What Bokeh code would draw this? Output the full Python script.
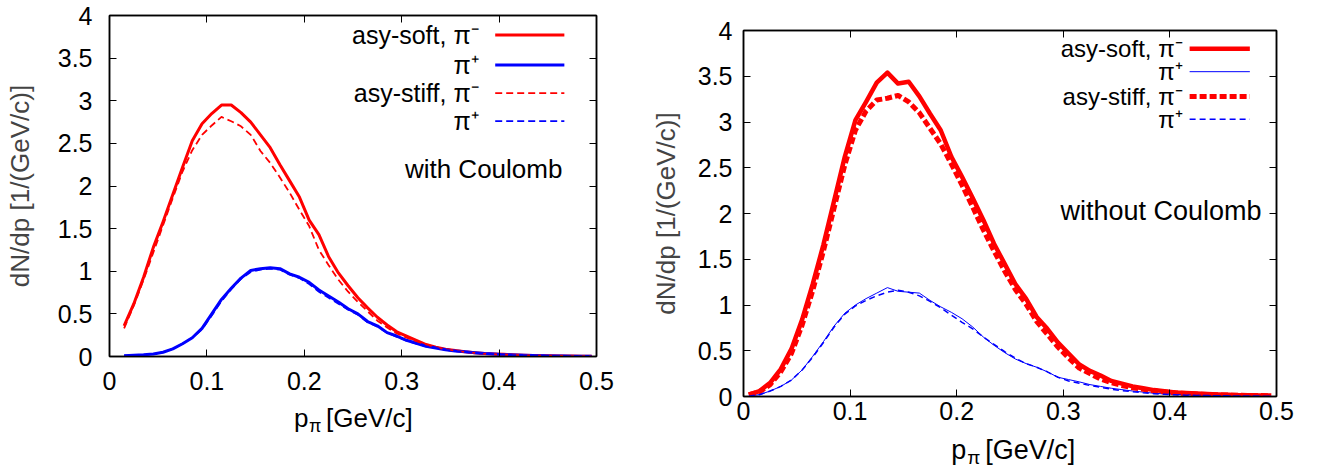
from bokeh.plotting import figure
from bokeh.layouts import row, column
from bokeh.models import Range1d, LinearAxis, FixedTicker, Label, CustomJSTickFormatter
from bokeh.core.properties import value
from bokeh.embed import file_html
from bokeh.resources import INLINE

# ---------------- data ----------------
x_ticks = [0, 0.1, 0.2, 0.3, 0.4, 0.5]
x_tick_labels = ["0", "0.1", "0.2", "0.3", "0.4", "0.5"]
y_ticks = [0, 0.5, 1, 1.5, 2, 2.5, 3, 3.5, 4]
y_tick_labels = ["0", "0.5", "1", "1.5", "2", "2.5", "3", "3.5", "4"]

series_labels = ["asy-soft, π⁻", "π⁺", "asy-stiff, π⁻", "π⁺"]
x_title = ["p", "π", "[GeV/c]"]
y_title = "dN/dp [1/(GeV/c)]"
panel_notes = ["with Coulomb", "without Coulomb"]

# left panel: with Coulomb
p_with = [0.015, 0.025, 0.035, 0.045, 0.055, 0.065, 0.075, 0.085, 0.095, 0.105,
          0.115, 0.125, 0.135, 0.145, 0.155, 0.165, 0.175, 0.185, 0.195, 0.205,
          0.215, 0.225, 0.235, 0.245, 0.255, 0.265, 0.275, 0.285, 0.295, 0.305,
          0.315, 0.325, 0.335, 0.345, 0.355, 0.365, 0.375, 0.385, 0.395, 0.405,
          0.415, 0.425, 0.435, 0.445, 0.455, 0.465, 0.475, 0.485, 0.495]
soft_pim_with = [0.36, 0.62, 0.93, 1.28, 1.58, 1.90, 2.22, 2.53, 2.73, 2.85,
                 2.95, 2.95, 2.86, 2.75, 2.60, 2.45, 2.25, 2.06, 1.87, 1.60,
                 1.43, 1.17, 0.98, 0.83, 0.69, 0.57, 0.46, 0.37, 0.29, 0.24,
                 0.19, 0.14, 0.11, 0.085, 0.07, 0.055, 0.045, 0.035, 0.03, 0.025,
                 0.02, 0.015, 0.012, 0.01, 0.008, 0.006, 0.005, 0.004, 0.003]
soft_pip_with = [0.01, 0.015, 0.02, 0.03, 0.05, 0.09, 0.15, 0.22, 0.33, 0.50,
                 0.67, 0.80, 0.92, 1.01, 1.03, 1.04, 1.03, 0.97, 0.93, 0.87,
                 0.78, 0.71, 0.64, 0.56, 0.50, 0.41, 0.36, 0.28, 0.24, 0.19,
                 0.155, 0.12, 0.10, 0.08, 0.065, 0.055, 0.045, 0.035, 0.028, 0.022,
                 0.018, 0.014, 0.011, 0.009, 0.007, 0.005, 0.004, 0.003, 0.002]
stiff_pim_with = [0.33, 0.60, 0.90, 1.22, 1.54, 1.86, 2.17, 2.42, 2.60, 2.71,
                  2.81, 2.76, 2.70, 2.60, 2.41, 2.27, 2.10, 1.92, 1.72, 1.53,
                  1.25, 1.07, 0.90, 0.76, 0.64, 0.53, 0.42, 0.34, 0.27, 0.22,
                  0.18, 0.14, 0.11, 0.085, 0.068, 0.052, 0.042, 0.032, 0.027, 0.022,
                  0.018, 0.014, 0.011, 0.009, 0.007, 0.006, 0.005, 0.004, 0.003]
stiff_pip_with = [0.01, 0.014, 0.02, 0.03, 0.05, 0.09, 0.15, 0.22, 0.32, 0.48,
                  0.65, 0.79, 0.91, 0.99, 1.02, 1.03, 1.02, 0.96, 0.92, 0.85,
                  0.76, 0.69, 0.62, 0.55, 0.49, 0.40, 0.35, 0.28, 0.23, 0.185,
                  0.15, 0.12, 0.10, 0.078, 0.063, 0.052, 0.043, 0.034, 0.027, 0.021,
                  0.017, 0.013, 0.011, 0.009, 0.007, 0.005, 0.004, 0.003, 0.002]

# right panel: without Coulomb
p_without = [0.005, 0.015, 0.025, 0.035, 0.045, 0.055, 0.065, 0.075, 0.085, 0.095,
             0.105, 0.115, 0.125, 0.135, 0.145, 0.155, 0.165, 0.175, 0.185, 0.195,
             0.205, 0.215, 0.225, 0.235, 0.245, 0.255, 0.265, 0.275, 0.285, 0.295,
             0.305, 0.315, 0.325, 0.335, 0.345, 0.355, 0.365, 0.375, 0.385, 0.395,
             0.405, 0.415, 0.425, 0.435, 0.445, 0.455, 0.465, 0.475, 0.485, 0.495]
soft_pim_without = [0.02, 0.06, 0.15, 0.30, 0.52, 0.84, 1.23, 1.66, 2.14, 2.62,
                    3.02, 3.22, 3.43, 3.54, 3.42, 3.44, 3.28, 3.09, 2.91, 2.62,
                    2.40, 2.17, 1.93, 1.67, 1.45, 1.23, 1.07, 0.87, 0.74, 0.59,
                    0.47, 0.35, 0.28, 0.23, 0.17, 0.14, 0.11, 0.09, 0.07, 0.058,
                    0.045, 0.038, 0.032, 0.027, 0.022, 0.018, 0.015, 0.013, 0.011, 0.01]
soft_pip_without = [0.004, 0.02, 0.06, 0.11, 0.18, 0.29, 0.44, 0.60, 0.77, 0.91,
                    1.00, 1.07, 1.13, 1.19, 1.15, 1.14, 1.13, 1.05, 0.98, 0.92,
                    0.85, 0.76, 0.65, 0.56, 0.48, 0.41, 0.36, 0.32, 0.27, 0.21,
                    0.185, 0.16, 0.13, 0.11, 0.09, 0.075, 0.06, 0.048, 0.036, 0.028,
                    0.022, 0.018, 0.015, 0.012, 0.01, 0.008, 0.007, 0.005, 0.004, 0.004]
stiff_pim_without = [0.02, 0.05, 0.13, 0.27, 0.47, 0.78, 1.16, 1.59, 2.06, 2.53,
                     2.91, 3.12, 3.24, 3.26, 3.29, 3.22, 3.10, 2.93, 2.76, 2.54,
                     2.31, 2.07, 1.82, 1.59, 1.37, 1.17, 1.01, 0.82, 0.68, 0.54,
                     0.42, 0.31, 0.25, 0.19, 0.15, 0.12, 0.095, 0.078, 0.062, 0.05,
                     0.04, 0.032, 0.026, 0.021, 0.018, 0.015, 0.013, 0.011, 0.01, 0.009]
stiff_pip_without = [0.004, 0.02, 0.06, 0.11, 0.18, 0.29, 0.43, 0.59, 0.76, 0.90,
                     0.99, 1.05, 1.10, 1.14, 1.16, 1.14, 1.10, 1.04, 0.97, 0.89,
                     0.81, 0.74, 0.65, 0.57, 0.49, 0.42, 0.36, 0.32, 0.27, 0.21,
                     0.17, 0.145, 0.12, 0.10, 0.08, 0.065, 0.052, 0.04, 0.031, 0.024,
                     0.019, 0.015, 0.012, 0.01, 0.008, 0.007, 0.006, 0.005, 0.004, 0.003]

# ---------------- styling / layout ----------------
FONT = "Liberation Sans"
RED = "#ff0000"
BLUE = "#0000ff"


def style_axis(ax, ticks, labels, standoff, fs):
    ax.ticker = FixedTicker(ticks=ticks)
    ax.major_label_overrides = dict(zip(ticks, labels))
    ax.major_label_text_font = FONT
    ax.major_label_text_font_size = fs
    ax.major_label_text_color = "black"
    ax.major_label_standoff = standoff
    ax.major_tick_in = 7
    ax.major_tick_out = 0
    ax.major_tick_line_color = "black"
    ax.major_tick_line_width = 1
    ax.minor_tick_line_color = None
    ax.axis_line_color = "black"
    ax.axis_line_width = 1.5


def mirror_axis(ticks):
    ax = LinearAxis(ticker=FixedTicker(ticks=ticks),
                    formatter=CustomJSTickFormatter(code="return ''"))
    ax.major_label_text_font_size = "0px"
    ax.major_label_standoff = 0
    ax.major_tick_in = 7
    ax.major_tick_out = 0
    ax.major_tick_line_color = "black"
    ax.minor_tick_line_color = None
    ax.axis_line_color = "black"
    ax.axis_line_width = 1.5
    return ax


def make_panel(width, height, borders, x, series, styles, legend, note, ticks_fs,
               xstand, ylab):
    bl, br, bt, bb = borders
    p = figure(width=width, height=height, output_backend="svg", toolbar_location=None,
               x_range=Range1d(0, 0.5), y_range=Range1d(0, 4),
               min_border_left=bl, min_border_right=br,
               min_border_top=bt, min_border_bottom=bb)
    p.xgrid.visible = False
    p.ygrid.visible = False
    p.outline_line_color = "black"
    p.outline_line_width = 1.5
    p.background_fill_color = "white"
    p.border_fill_color = "white"

    style_axis(p.xaxis[0], x_ticks, x_tick_labels, xstand, ticks_fs)
    style_axis(p.yaxis[0], y_ticks, y_tick_labels, ylab["standoff"], ticks_fs)
    p.yaxis[0].axis_label = y_title
    p.yaxis[0].axis_label_text_font = FONT
    p.yaxis[0].axis_label_text_font_size = ylab["fs"]
    p.yaxis[0].axis_label_text_font_style = "normal"
    p.yaxis[0].axis_label_standoff = ylab["label_standoff"]
    p.add_layout(mirror_axis(y_ticks), "right")
    p.add_layout(mirror_axis(x_ticks), "above")

    for ys, st in zip(series, styles):
        p.line(x, ys, line_color=st["color"], line_width=st["width"],
               line_dash=st["dash"], line_join="round")

    # key: labels on the left, samples on the right
    for lab, st, ly in zip(series_labels, styles, legend["rows"]):
        p.add_layout(Label(x=legend["text_x"], y=ly, text=lab, text_align="right",
                           text_baseline="middle", text_font=FONT,
                           text_font_size=legend["fs"], text_color="black"))
        p.segment(x0=legend["line_x"][0], x1=legend["line_x"][1], y0=ly, y1=ly,
                  line_color=st["color"], line_width=st["width"], line_dash=st["dash"])
    p.add_layout(Label(x=note["x"], y=note["y"], text=note["text"], text_align="right",
                       text_baseline="middle", text_font=FONT,
                       text_font_size=note["fs"], text_color="black"))
    return p


def make_xtitle(width, height, borders, cx, cy_from_top, fs, fs_sub, offs):
    bl, br = borders
    t = figure(width=width, height=height, output_backend="svg", toolbar_location=None,
               x_range=Range1d(0, 0.5), y_range=Range1d(0, height),
               min_border_left=bl, min_border_right=br,
               min_border_top=0, min_border_bottom=0)
    t.axis.visible = False
    t.grid.visible = False
    t.outline_line_color = None
    t.border_fill_color = "white"
    t.background_fill_color = "white"
    cy = height - cy_from_top
    t.text(x=[cx], y=[cy], text=[x_title[0]], x_offset=offs[0], text_align="left",
           text_baseline="middle", text_font=value(FONT), text_font_size=fs)
    t.text(x=[cx], y=[cy], text=[x_title[1]], x_offset=offs[1], y_offset=8,
           text_align="left", text_baseline="middle", text_font=value(FONT),
           text_font_size=fs_sub)
    t.text(x=[cx], y=[cy], text=[x_title[2]], x_offset=offs[2], text_align="left",
           text_baseline="middle", text_font=value(FONT), text_font_size=fs)
    return t


styles_left = [
    dict(color=RED, width=3, dash="solid"),
    dict(color=BLUE, width=3, dash="solid"),
    dict(color=RED, width=1.8, dash="7 4"),
    dict(color=BLUE, width=1.8, dash="7 4"),
]
styles_right = [
    dict(color=RED, width=4.5, dash="solid"),
    dict(color=BLUE, width=1, dash="solid"),
    dict(color=RED, width=5, dash="7 3"),
    dict(color=BLUE, width=1.5, dash="6 4"),
]

left = make_panel(
    620, 404, (109, 24, 15, 48), p_with,
    [soft_pim_with, soft_pip_with, stiff_pim_with, stiff_pip_with], styles_left,
    legend=dict(text_x=0.379, rows=[3.77, 3.42, 3.09, 2.76], line_x=(0.396, 0.467), fs="25px"),
    note=dict(x=0.465, y=2.2, text=panel_notes[0], fs="26px"),
    ticks_fs="25px", xstand=15,
    ylab=dict(standoff=17, fs="26px", label_standoff=20),
)
left_title = make_xtitle(620, 67, (109, 24), 0.25, 13, "26px", "18px", (-59, -44, -27))

right = make_panel(
    704, 433, (123, 48, 30, 37), p_without,
    [soft_pim_without, soft_pip_without, stiff_pim_without, stiff_pip_without], styles_right,
    legend=dict(text_x=0.412, rows=[3.80, 3.55, 3.28, 3.03], line_x=(0.4185, 0.475), fs="24px"),
    note=dict(x=0.486, y=2.03, text=panel_notes[1], fs="27px"),
    ticks_fs="25px", xstand=5,
    ylab=dict(standoff=11, fs="26px", label_standoff=14),
)
right_title = make_xtitle(704, 38, (123, 48), 0.255, 16, "27px", "19px", (-64, -48, -30))

layout = row(column(left, left_title, spacing=0), column(right, right_title, spacing=0),
             spacing=0)
open("out.html", "w").write(file_html(layout, INLINE))
